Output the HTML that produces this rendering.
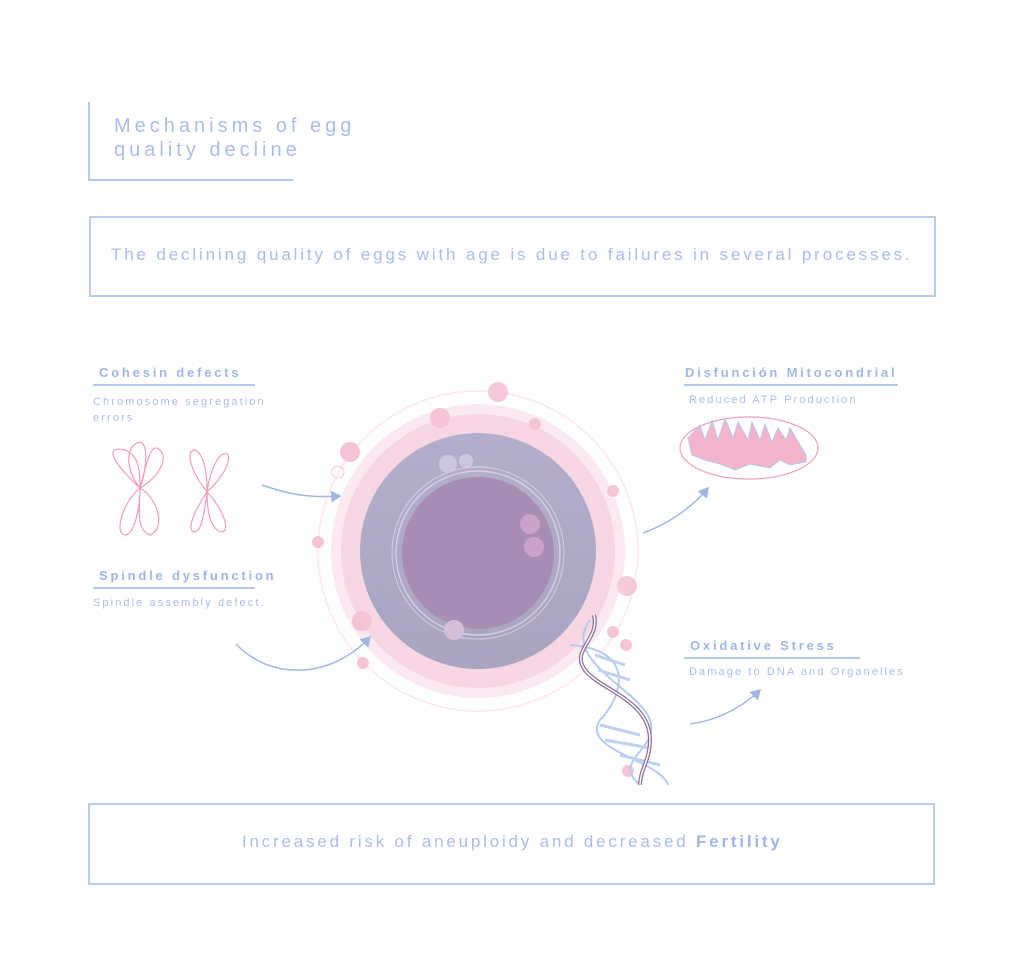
<!DOCTYPE html>
<html><head><style>
body{margin:0;width:1024px;height:971px;background:#fff;position:relative;overflow:hidden;font-family:"Liberation Sans",sans-serif;color:#a9bde6}
.a{position:absolute;white-space:nowrap}
.h{font-weight:bold;font-size:13px;letter-spacing:2.8px;color:#9fb6e4}
.s{font-size:11px;letter-spacing:2.1px;color:#a9bde6}
.u{position:absolute;height:2px;background:#b4c7ec}
</style></head><body>
<div class="a" style="left:88px;top:102px;width:2px;height:78px;background:#b4c7ec"></div>
<div class="u" style="left:88px;top:179px;width:205px"></div>
<div class="a" style="left:114px;top:114px;font-size:20px;letter-spacing:4px;line-height:24px">Mechanisms of egg<br>quality decline</div>
<div class="a" style="left:89px;top:216px;width:843px;height:77px;border:2px solid #b9cbee"></div>
<div class="a" style="left:111px;top:245px;font-size:17px;letter-spacing:2.85px">The declining quality of eggs with age is due to failures in several processes.</div>
<div class="a" style="left:88px;top:803px;width:843px;height:78px;border:2px solid #b9cbee"></div>
<div class="a" style="left:242px;top:832px;font-size:17px;letter-spacing:2.8px">Increased risk of aneuploidy and decreased <b style="color:#9fb6e4">Fertility</b></div>

<div class="a h" style="left:99px;top:365px">Cohesin defects</div>
<div class="u" style="left:93px;top:384px;width:162px"></div>
<div class="a s" style="left:93px;top:394px;line-height:16px">Chromosome segregation<br>errors</div>
<div class="a h" style="left:99px;top:568px">Spindle dysfunction</div>
<div class="u" style="left:93px;top:587px;width:162px"></div>
<div class="a s" style="left:93px;top:597px">Spindle assembly defect.</div>
<div class="a h" style="left:685px;top:365px">Disfunción Mitocondrial</div>
<div class="u" style="left:684px;top:384px;width:214px"></div>
<div class="a s" style="left:689px;top:394px">Reduced ATP Production</div>
<div class="a h" style="left:690px;top:638px">Oxidative Stress</div>
<div class="u" style="left:684px;top:657px;width:176px"></div>
<div class="a s" style="left:689px;top:666px">Damage to DNA and Organelles</div>

<svg class="a" style="left:0;top:0" width="1024" height="971">
<defs>
<linearGradient id="g" x1="0" y1="0" x2="0" y2="1"><stop offset="0" stop-color="#b3aecb"/><stop offset="1" stop-color="#a9a4c0"/></linearGradient>
<marker id="m" markerWidth="8" markerHeight="8" refX="6" refY="4" orient="auto"><path d="M0,0L7,4L0,8" fill="#9fb8e2"/></marker>
</defs>
<circle cx="478" cy="551" r="160" fill="none" stroke="#fbe6ee" stroke-width="1.5"/>
<circle cx="478" cy="551" r="147" fill="#fce8f0"/>
<circle cx="478" cy="551" r="137" fill="#f7d6e3"/>
<circle cx="478" cy="551" r="118" fill="url(#g)"/>
<circle cx="478" cy="553" r="82" fill="none" stroke="#d6cfe0" stroke-width="1.5"/>
<circle cx="478" cy="553" r="86" fill="none" stroke="#d6cfe0" stroke-width="1"/>
<circle cx="478" cy="553" r="76" fill="#a78db4"/>
<circle cx="448" cy="464" r="9" fill="#cdc6e3"/><circle cx="466" cy="461" r="7" fill="#cdc6e3"/>
<circle cx="530" cy="524" r="10" fill="#c9a2c7"/><circle cx="534" cy="547" r="10" fill="#c9a2c7"/>
<circle cx="454" cy="630" r="10" fill="#d6bfd6"/>
<circle cx="498" cy="392" r="10" fill="#f6c8d9"/><circle cx="440" cy="418" r="10" fill="#f4c4d6"/>
<circle cx="535" cy="424" r="6" fill="#f4c4d6"/><circle cx="350" cy="452" r="10" fill="#f6c4d6"/>
<circle cx="338" cy="472" r="6" fill="none" stroke="#f6c4d6"/><circle cx="318" cy="542" r="6" fill="#f6c4d6"/>
<circle cx="613" cy="491" r="6" fill="#f6c4d6"/><circle cx="627" cy="586" r="10" fill="#f6cad9"/>
<circle cx="362" cy="621" r="10" fill="#f4c4d6"/><circle cx="363" cy="663" r="6" fill="#f6c4d6"/>
<circle cx="613" cy="632" r="6" fill="#f6c4d6"/><circle cx="626" cy="645" r="6" fill="#f6c4d6"/>
<circle cx="628" cy="771" r="6" fill="#f6c4d6"/>
<g fill="none" stroke="#b6cbed" stroke-width="2">
<path d="M570 645 C640 650,620 700,600 720 C580 750,660 760,668 785"/>
<path d="M590 620 C560 660,640 690,650 720 C660 750,610 760,640 785"/>
</g>
<g stroke="#bcd0ef" stroke-width="3">
<line x1="595" y1="655" x2="625" y2="665"/><line x1="598" y1="670" x2="630" y2="680"/>
<line x1="600" y1="725" x2="640" y2="735"/><line x1="605" y1="740" x2="650" y2="748"/>
<line x1="620" y1="755" x2="660" y2="765"/>
</g>
<path d="M594 615 C600 640,570 650,585 670 C600 690,650 700,650 740 C650 760,640 770,640 785" fill="none" stroke="#8a6f99" stroke-width="4"/>
<path d="M594 615 C600 640,570 650,585 670 C600 690,650 700,650 740 C650 760,640 770,640 785" fill="none" stroke="#fff" stroke-width="1.5"/>
<g fill="none" stroke="#9fb8e2" stroke-width="1.5" marker-end="url(#m)">
<path d="M262 485 C290 495,310 498,340 496"/>
<path d="M236 644 C270 680,330 680,370 637"/>
<path d="M643 533 C665 525,690 510,708 488"/>
<path d="M690 724 C720 720,745 705,760 690"/>
</g>
<g fill="none" stroke="#ee9dbd" stroke-width="1.2">
<path d="M140 488 C110 460,105 445,125 450 C140 455,140 475,140 488 C145 470,150 440,160 450 C170 460,155 480,140 488 C160 500,165 530,150 535 C135 530,140 505,140 488 C120 505,115 535,125 535 C135 535,140 505,140 488Z"/>
<path d="M140 488 C125 470,125 445,140 442 C150 445,145 475,140 488"/>
<path d="M207 492 C190 470,185 450,195 450 C205 455,207 475,207 492 C210 470,220 448,228 455 C232 465,215 485,207 492 C220 505,232 530,222 532 C210 530,207 510,207 492 C195 510,185 532,195 532 C203 530,205 505,207 492Z"/>
<ellipse cx="749" cy="448" rx="69" ry="31" stroke="#eea0bd"/>
</g>
<path d="M688 438 L700 425 L705 440 L712 420 L718 440 L725 418 L733 438 L738 422 L748 440 L752 422 L760 440 L765 424 L772 442 L778 428 L786 440 L790 428 L800 445 L806 455 L806 462 L790 465 L780 460 L770 468 L750 464 L735 470 L720 464 L705 460 L692 455Z" fill="#f2b3cb" stroke="#b6cbed" stroke-width="1"/>
</svg>
</body></html>
